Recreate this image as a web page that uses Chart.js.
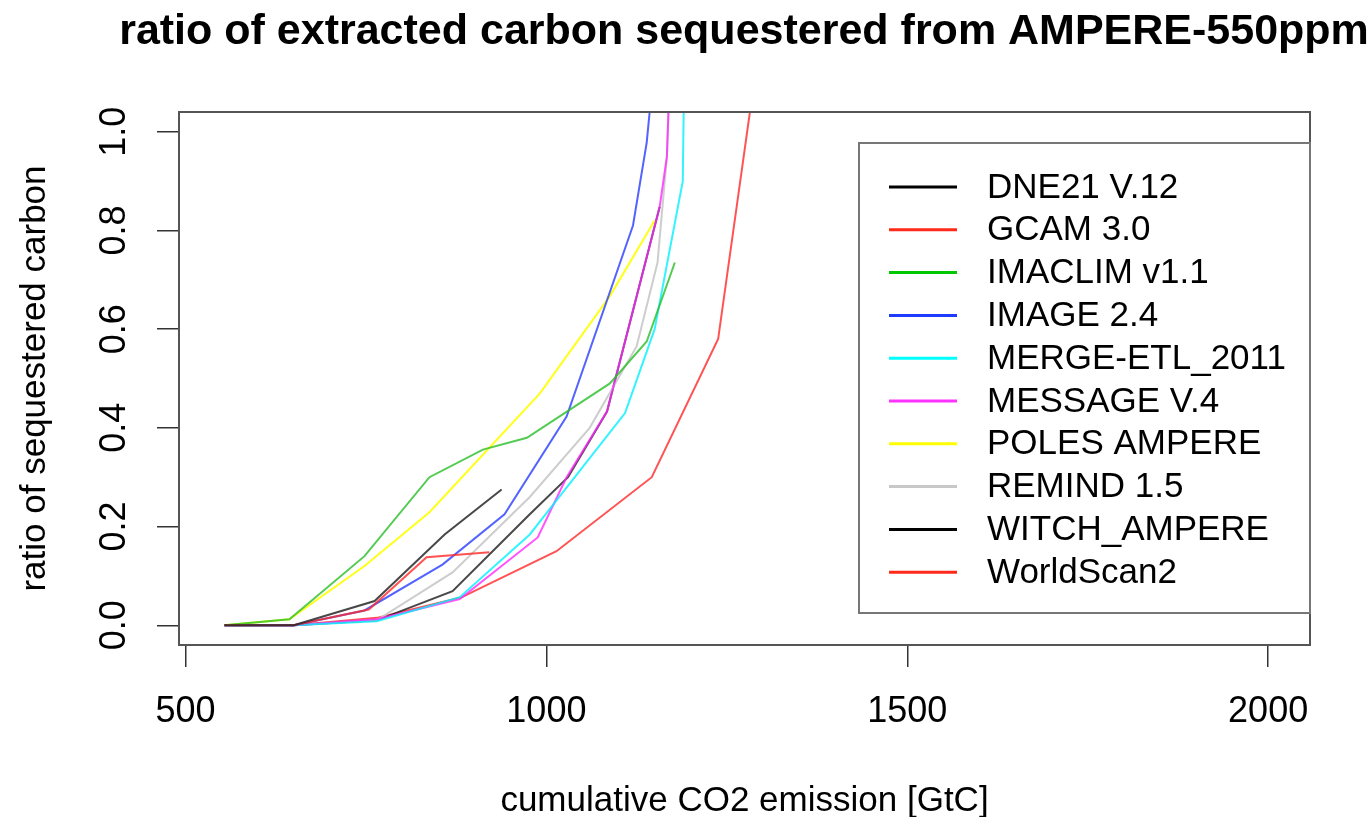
<!DOCTYPE html>
<html>
<head>
<meta charset="utf-8">
<script src="https://cdn.jsdelivr.net/npm/chart.js@4/dist/chart.umd.min.js"></script>
<style>
  html, body { margin: 0; padding: 0; background: #fff; }
  #wrap { width: 1371px; height: 817px; }
</style>
</head>
<body>
<div id="wrap"><canvas id="c" width="1371" height="817"></canvas></div>
<script>
// ---- data ----
const titleText = "ratio of extracted carbon sequestered from AMPERE-550ppm";
const xTitle = "cumulative CO2 emission [GtC]";
const yTitle = "ratio of sequestered carbon";
const models = ["DNE21 V.12", "GCAM 3.0", "IMACLIM v1.1", "IMAGE 2.4", "MERGE-ETL_2011",
                "MESSAGE V.4", "POLES AMPERE", "REMIND 1.5", "WITCH_AMPERE", "WorldScan2"];
const xTicks = [500, 1000, 1500, 2000];
const yTicks = [0.0, 0.2, 0.4, 0.6, 0.8, 1.0];

const dne21X = [554, 650, 762, 859, 938];
const dne21Y = [0, 0, 0.049, 0.184, 0.275];
const gcamX = [554, 650, 754, 834, 921];
const gcamY = [0, 0, 0.032, 0.138, 0.148];
const imaclimX = [554, 644, 748, 838, 912, 973, 1088, 1139, 1178];
const imaclimY = [0, 0.012, 0.14, 0.30, 0.356, 0.38, 0.49, 0.575, 0.735];
const imageX = [554, 650, 748, 856, 942, 1028, 1120, 1139, 1180];
const imageY = [0, 0, 0.03, 0.123, 0.225, 0.423, 0.81, 0.978, 1.6];
const mergeX = [554, 650, 765, 880, 977, 1109, 1150, 1189, 1195];
const mergeY = [0, 0, 0.008, 0.057, 0.184, 0.43, 0.60, 0.90, 1.6];
const messageX = [554, 650, 765, 880, 988, 1028, 1084, 1157, 1167, 1180];
const messageY = [0, 0, 0.012, 0.053, 0.178, 0.30, 0.433, 0.848, 0.95, 1.5];
const polesX = [554, 644, 748, 838, 991, 1088, 1150];
const polesY = [0, 0.012, 0.12, 0.229, 0.47, 0.667, 0.82];
const remindX = [554, 650, 765, 870, 977, 1060, 1125, 1154, 1167, 1180];
const remindY = [0, 0, 0.01, 0.107, 0.26, 0.40, 0.565, 0.735, 0.95, 1.5];
const witchX = [554, 650, 765, 870, 977, 1030, 1084, 1157];
const witchY = [0, 0, 0.01, 0.069, 0.225, 0.30, 0.433, 0.848];
const worldscanX = [554, 650, 765, 883, 1014, 1146, 1238, 1326];
const worldscanY = [0, 0, 0.015, 0.057, 0.15, 0.30, 0.58, 1.5];

const seriesX = [dne21X, gcamX, imaclimX, imageX, mergeX, messageX, polesX, remindX, witchX, worldscanX];
const seriesY = [dne21Y, gcamY, imaclimY, imageY, mergeY, messageY, polesY, remindY, witchY, worldscanY];

// ---- styles ----
const lineColors = ["rgba(40,40,40,0.85)", "rgba(255,40,40,0.8)", "rgba(40,190,40,0.8)", "rgba(40,60,255,0.8)",
                    "rgba(0,240,255,0.8)", "rgba(255,40,255,0.8)", "rgba(255,255,0,0.9)", "rgba(200,200,200,0.9)",
                    "rgba(40,40,40,0.85)", "rgba(255,40,40,0.8)"];
const legendColors = ["#000000", "#FF2A1A", "#00C800", "#1E3CFF", "#00FFFF", "#FF33FF", "#FFFF00", "#C8C8C8", "#000000", "#FF2A1A"];
const FONT = "'Liberation Sans', Arial, Helvetica, sans-serif";

const datasets = models.map((m, i) => ({
  label: m,
  data: seriesX[i].map((x, j) => ({x: x, y: seriesY[i][j]})),
  borderColor: lineColors[i],
  borderWidth: 2,
  pointRadius: 0,
  fill: false,
  tension: 0
}));

const AREA = {left: 179, right: 1310, top: 112, bottom: 645};

const decor = {
  id: 'decor',
  afterDatasetsDraw(chart) {
    const ctx = chart.ctx;
    const a = chart.chartArea;
    ctx.save();
    // plot box
    ctx.strokeStyle = '#555';
    ctx.lineWidth = 2;
    ctx.strokeRect(a.left, a.top, a.right - a.left, a.bottom - a.top);
    // legend box
    const lx = 859, ly = 143, lw = a.right - 859, lh = 613 - 143;
    ctx.fillStyle = '#fff';
    ctx.fillRect(lx, ly, lw, lh);
    ctx.strokeStyle = '#777';
    ctx.lineWidth = 2;
    ctx.strokeRect(lx, ly, lw, lh);
    ctx.font = '35px ' + FONT;
    ctx.textAlign = 'left';
    ctx.textBaseline = 'middle';
    chart.data.datasets.forEach((ds, i) => {
      const y = 187 + i * 42.8;
      ctx.strokeStyle = legendColors[i];
      ctx.lineWidth = 3;
      ctx.beginPath();
      ctx.moveTo(889, y);
      ctx.lineTo(957, y);
      ctx.stroke();
      ctx.fillStyle = '#000';
      ctx.fillText(ds.label, 987, y + 1);
    });
    // title
    ctx.font = 'bold 43px ' + FONT;
    ctx.textAlign = 'center';
    ctx.textBaseline = 'alphabetic';
    ctx.fillStyle = '#000';
    ctx.fillText(titleText, 744, 44);
    ctx.restore();
  }
};

new Chart(document.getElementById('c'), {
  type: 'line',
  data: {datasets: datasets},
  options: {
    responsive: false,
    animation: false,
    layout: {padding: {left: 0, right: 1371 - AREA.right, top: AREA.top, bottom: 0}},
    plugins: {legend: {display: false}, title: {display: false}, tooltip: {enabled: false}},
    scales: {
      x: {
        type: 'linear',
        min: 491, max: 2058,
        afterBuildTicks: s => { s.ticks = xTicks.map(v => ({value: v})); },
        afterFit: s => { s.height = 817 - AREA.bottom; },
        grid: {drawOnChartArea: false, drawTicks: true, tickLength: 22, color: '#333', lineWidth: 1.5},
        border: {display: false},
        ticks: {font: {size: 36, family: FONT}, color: '#000', padding: 23, maxRotation: 0, minRotation: 0,
                callback: v => String(v)},
        title: {display: true, text: xTitle, font: {size: 35, family: FONT, lineHeight: 1}, color: '#000',
                padding: {top: 0, bottom: -2}}
      },
      y: {
        type: 'linear',
        min: -0.04, max: 1.04,
        afterBuildTicks: s => { s.ticks = yTicks.map(v => ({value: v})); },
        afterFit: s => { s.width = AREA.left; },
        grid: {drawOnChartArea: false, drawTicks: true, tickLength: 22, color: '#333', lineWidth: 1.5},
        border: {display: false},
        ticks: {font: {size: 36, family: FONT}, color: '#000', padding: 17, minRotation: 90, maxRotation: 90,
                crossAlign: 'center', callback: v => v.toFixed(1)},
        title: {display: true, text: yTitle, font: {size: 35, family: FONT, lineHeight: 1}, color: '#000',
                padding: {top: 18, bottom: 0}}
      }
    }
  },
  plugins: [decor]
});
</script>
</body>
</html>
